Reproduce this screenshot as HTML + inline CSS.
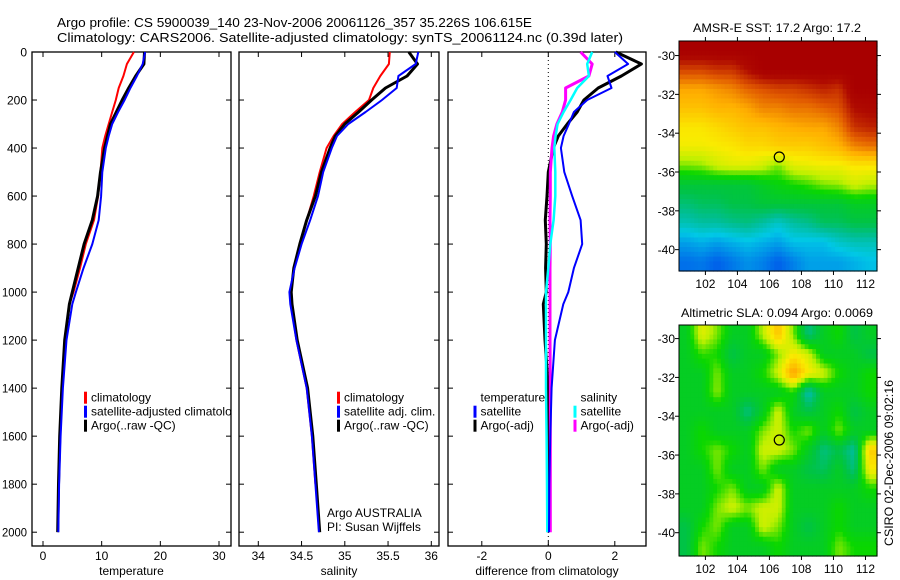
<!DOCTYPE html>
<html><head><meta charset="utf-8">
<style>
html,body{margin:0;padding:0;background:#fff;}
svg{display:block;font-family:"Liberation Sans",sans-serif;}
text{font-size:12px;fill:#000;}
</style></head>
<body>
<svg id="fig" width="900" height="580" viewBox="0 0 900 580" xmlns="http://www.w3.org/2000/svg">
<text x="57" y="27" style="font-size:13px" textLength="475" lengthAdjust="spacingAndGlyphs">Argo profile: CS 5900039_140 23-Nov-2006 20061126_357 35.226S 106.615E</text>
<text x="57" y="42" style="font-size:13px" textLength="566" lengthAdjust="spacingAndGlyphs">Climatology: CARS2006. Satellite-adjusted climatology: synTS_20061124.nc (0.39d later)</text>
<g id="g-t"></g>
<g id="g-s"></g>
<g id="g-d"></g>
<g id="g-m1"></g>
<g id="g-m2"></g>
<text x="693" y="32" textLength="168" lengthAdjust="spacingAndGlyphs">AMSR-E SST: 17.2 Argo: 17.2</text>
<text x="681" y="317" textLength="192" lengthAdjust="spacingAndGlyphs">Altimetric SLA: 0.094 Argo: 0.0069</text>
<text transform="translate(893,463) rotate(-90)" text-anchor="middle" textLength="166" lengthAdjust="spacingAndGlyphs">CSIRO 02-Dec-2006 09:02:16</text>
<text x="327" y="517">Argo AUSTRALIA</text>
<text x="327" y="531">PI: Susan Wijffels</text>
</svg>
<script>
// ---- data ----
const depths = [0,50,100,150,200,250,300,350,400,500,600,700,800,900,1000,1050,1200,1400,1600,1800,2000];
const tempClim = [15.5,14.3,13.7,12.9,12.4,11.8,11.2,10.6,10.1,9.8,9.4,8.7,7.3,6.3,5.2,4.5,3.7,3.3,2.95,2.7,null];
const tempSat  = [17.4,17.0,16.0,14.9,13.9,12.8,11.8,11.2,10.7,10.1,9.9,9.5,8.4,6.9,5.6,5.0,4.0,3.4,3.0,2.75,2.6];
const tempArgo = [17.3,17.2,15.8,14.6,13.5,12.5,11.5,11.0,10.5,9.8,9.3,8.4,7.0,6.0,5.0,4.5,3.7,3.2,2.85,2.65,2.5];
const salClim = [35.52,35.51,35.41,35.33,35.28,35.12,34.97,34.87,34.79,34.71,34.64,34.56,34.48,34.41,34.38,34.38,34.44,34.56,34.62,34.66,null];
const salSat  = [35.85,35.82,35.62,35.60,35.43,35.24,35.04,34.91,34.85,34.75,34.69,34.60,34.50,34.42,34.36,34.37,34.44,34.56,34.62,34.66,34.70];
const salArgo = [35.74,35.84,35.72,35.47,35.31,35.16,35.00,34.89,34.83,34.73,34.66,34.56,34.48,34.41,34.38,34.39,34.45,34.57,34.63,34.67,34.71];
const dTempSat  = [2.0,2.4,1.78,1.9,1.17,0.77,0.62,0.46,0.38,0.48,0.72,0.97,1.02,0.77,0.6,0.45,0.2,0.1,0.06,0.03,0.02];
const dTempArgo = [2.03,2.8,2.2,1.5,1.07,0.87,0.57,0.3,0.15,0.0,-0.04,-0.09,-0.06,-0.08,-0.06,-0.15,-0.1,0.0,0.02,0.02,0.0];
const dSalSat   = [1.32,1.17,1.22,0.87,0.67,0.46,0.28,0.22,0.18,0.21,0.21,0.16,0.06,0.0,-0.07,-0.07,-0.07,-0.07,-0.05,-0.04,-0.03];
const dSalArgo  = [0.97,1.32,1.22,0.52,0.52,0.42,0.26,0.16,0.11,0.06,0.06,0.05,0.06,0.05,0.05,0.05,0.05,0.06,0.06,0.06,0.06];
const depthTicks = [0,200,400,600,800,1000,1200,1400,1600,1800,2000];
const tempTicks = [0,10,20,30];
const salTicks = [34,34.5,35,35.5,36];
const salTickLabels = ["34","34.5","35","35.5","36"];
const diffTicks = [-2,0,2];
const lonTicks = [102,104,106,108,110,112];
const latTicks = [-30,-32,-34,-36,-38,-40];
const sstGrid = [
 [1,1,1,1,1,1,1,1,1,1,1,1,1],
 [0.88,0.88,0.9,0.9,0.95,1,1,1,1,1,1,1,1],
 [0.76,0.76,0.78,0.8,0.84,0.86,0.88,0.88,0.9,0.92,0.9,1,1],
 [0.72,0.72,0.74,0.74,0.76,0.8,0.8,0.82,0.82,0.84,0.86,0.95,0.96],
 [0.66,0.66,0.68,0.7,0.72,0.72,0.74,0.75,0.76,0.76,0.8,0.9,0.92],
 [0.64,0.64,0.65,0.66,0.68,0.68,0.7,0.7,0.7,0.72,0.74,0.8,0.82],
 [0.55,0.56,0.6,0.62,0.62,0.6,0.55,0.62,0.63,0.64,0.64,0.66,0.66],
 [0.42,0.42,0.42,0.42,0.42,0.45,0.48,0.5,0.52,0.55,0.56,0.6,0.58],
 [0.36,0.38,0.38,0.4,0.4,0.42,0.42,0.42,0.42,0.42,0.42,0.45,0.45],
 [0.3,0.32,0.32,0.34,0.35,0.32,0.28,0.32,0.34,0.38,0.38,0.4,0.4],
 [0.2,0.22,0.2,0.22,0.24,0.22,0.2,0.24,0.24,0.24,0.28,0.3,0.3],
 [0.14,0.15,0.12,0.15,0.18,0.16,0.12,0.16,0.2,0.2,0.2,0.22,0.24]
];
const slaGrid = [
 [0.45,0.62,0.55,0.45,0.45,0.58,0.72,0.55,0.35,0.45,0.5,0.4,0.45],
 [0.45,0.52,0.5,0.4,0.45,0.45,0.55,0.65,0.6,0.45,0.45,0.45,0.4],
 [0.45,0.45,0.55,0.45,0.45,0.5,0.6,0.78,0.65,0.6,0.5,0.45,0.5],
 [0.45,0.45,0.56,0.45,0.45,0.45,0.45,0.5,0.3,0.45,0.45,0.45,0.5],
 [0.45,0.45,0.45,0.45,0.35,0.45,0.6,0.45,0.4,0.45,0.5,0.4,0.45],
 [0.45,0.5,0.45,0.45,0.45,0.55,0.6,0.5,0.55,0.45,0.55,0.45,0.45],
 [0.45,0.5,0.55,0.5,0.45,0.6,0.6,0.55,0.45,0.35,0.4,0.32,0.7],
 [0.45,0.45,0.55,0.45,0.45,0.55,0.45,0.45,0.4,0.38,0.45,0.35,0.65],
 [0.45,0.45,0.5,0.55,0.45,0.45,0.6,0.45,0.45,0.45,0.45,0.45,0.5],
 [0.45,0.45,0.55,0.6,0.55,0.6,0.6,0.45,0.45,0.45,0.5,0.45,0.45],
 [0.4,0.5,0.55,0.45,0.45,0.6,0.55,0.45,0.4,0.45,0.5,0.45,0.45],
 [0.4,0.55,0.5,0.45,0.45,0.45,0.5,0.45,0.45,0.45,0.55,0.5,0.5]
];
const floatLon = 106.615, floatLat = -35.226;

// ---- helpers ----
const NS = "http://www.w3.org/2000/svg";
function mk(tag, attrs, parent){const e=document.createElementNS(NS,tag);for(const k in attrs)e.setAttribute(k,attrs[k]);parent.appendChild(e);return e;}
const yD = d => 52 + 0.2401*d;
const PT = {x0:32,x1:231,y0:52,y1:546};
const PS = {x0:239,x1:439,y0:52,y1:546};
const PD = {x0:448,x1:646,y0:52,y1:546};
const xT = v => 43 + 5.867*v;
const xS = v => 258.3 + 86.5*(v-34);
const xDf = v => 548.3 + 33.25*v;

function frame(g,P,xticks,xfun,labels,title,yl){
  const r=mk('rect',{x:P.x0,y:P.y0,width:P.x1-P.x0,height:P.y1-P.y0,fill:'none',stroke:'#000','stroke-width':1.3},g);
  
  
  xticks.forEach((t,i)=>{const x=xfun(t);
    mk('line',{x1:x,x2:x,y1:P.y0,y2:P.y0+5,stroke:'#000'},g);
    mk('line',{x1:x,x2:x,y1:P.y1,y2:P.y1-5,stroke:'#000'},g);
    const tx=mk('text',{x:x,y:560,'text-anchor':'middle'},g);tx.textContent=labels[i];
    
    
  });
  depthTicks.forEach(d=>{const y=yD(d);
    mk('line',{x1:P.x0,x2:P.x0+5,y1:y,y2:y,stroke:'#000'},g);
    mk('line',{x1:P.x1,x2:P.x1-5,y1:y,y2:y,stroke:'#000'},g);
    if(yl){const s=String(d);const at={x:27,y:y+4.5,'text-anchor':'end'};
      if(s.length===4){at.textLength=25;at.lengthAdjust='spacingAndGlyphs';}
      const tx=mk('text',at,g);tx.textContent=s;
      
      }
  });
  const tt=mk('text',{x:(P.x0+P.x1)/2,y:575,'text-anchor':'middle'},g);tt.textContent=title;
  
  
}
function series(g,vals,xf,color,w,name){
  let pts=[];
  vals.forEach((v,i)=>{if(v!==null)pts.push(xf(v).toFixed(1)+','+yD(depths[i]).toFixed(1));});
  const p=mk('polyline',{points:pts.join(' '),fill:'none',stroke:color,'stroke-width':w,'stroke-linejoin':'round'},g);
  
  
}
function legend(g,x,items,clip){
  items.forEach((it,i)=>{const y=401.7+14*i;
    if(it[0])mk('rect',{x:x,y:y-10,width:3,height:12,fill:it[0]},g);
    const t=mk('text',{x:x+7,y:y},g);t.textContent=it[1];
    
    
    if(clip)t.setAttribute('clip-path','url(#'+clip+')');
  });
}
const svg=document.getElementById('fig');
const defs=mk('defs',{},svg);
const cp=mk('clipPath',{id:'clipT'},defs);mk('rect',{x:32,y:52,width:199,height:494},cp);

// temperature
const gT=document.getElementById('g-t');
frame(gT,PT,tempTicks,xT,tempTicks.map(String),'temperature',true);
series(gT,tempClim,xT,'#f00',2,'temp-climatology-line');
series(gT,tempArgo,xT,'#000',3,'temp-argo-line');
series(gT,tempSat,xT,'#00f',2,'temp-satellite-line');
legend(gT,84,[['#f00','climatology'],['#00f','satellite-adjusted climatology'],['#000','Argo(..raw -QC)']],'clipT');

// salinity
const gS=document.getElementById('g-s');
frame(gS,PS,salTicks,xS,salTickLabels,'salinity',false);
series(gS,salClim,xS,'#f00',2,'sal-climatology-line');
series(gS,salArgo,xS,'#000',3,'sal-argo-line');
series(gS,salSat,xS,'#00f',2,'sal-satellite-line');
legend(gS,337,[['#f00','climatology'],['#00f','satellite adj. clim.'],['#000','Argo(..raw -QC)']]);

// difference
const gD=document.getElementById('g-d');
frame(gD,PD,diffTicks,xDf,diffTicks.map(String),'difference from climatology',false);
const zl=mk('line',{x1:xDf(0),x2:xDf(0),y1:52,y2:546,stroke:'#000','stroke-dasharray':'1,3'},gD);


series(gD,dTempArgo,xDf,'#000',3,'diff-temp-argo-line');
series(gD,dSalArgo,xDf,'#f0f',3,'diff-sal-argo-line');
series(gD,dSalSat,xDf,'#0ff',2.5,'diff-sal-satellite-line');
series(gD,dTempSat,xDf,'#00f',2,'diff-temp-satellite-line');
legend(gD,473.5,[[null,'temperature'],['#00f','satellite'],['#000','Argo(-adj)']]);
legend(gD,573.5,[[null,'salinity'],['#0ff','satellite'],['#f0f','Argo(-adj)']]);

// maps
const cstops=[[0,[0,40,230]],[0.1,[0,80,235]],[0.25,[0,200,230]],[0.33,[0,190,150]],[0.4,[0,195,70]],[0.5,[10,215,0]],[0.58,[190,240,0]],[0.65,[250,235,0]],[0.75,[255,175,0]],[0.85,[225,90,0]],[0.95,[175,10,0]],[1,[168,0,0]]];
function cmap(v){for(let i=1;i<cstops.length;i++){if(v<=cstops[i][0]){const a=cstops[i-1],b=cstops[i],f=(v-a[0])/(b[0]-a[0]);
  return 'rgb('+a[1].map((c,k)=>Math.round(c+(b[1][k]-c)*f)).join(',')+')';}}return 'rgb(168,0,0)';}
function drawMap(g,grid,M,name){
  const rows=grid.length,cols=grid[0].length,cw=(M.x1-M.x0)/cols,ch=(M.y1-M.y0)/rows;
  const sub=4;
  for(let r=0;r<rows;r++)for(let c=0;c<cols;c++)for(let a=0;a<sub;a++)for(let b=0;b<sub;b++){
    const fy=r+(a+0.5)/sub-0.5, fx=c+(b+0.5)/sub-0.5;
    const r0=Math.max(0,Math.min(rows-1,Math.floor(fy))),r1=Math.min(rows-1,r0+1),c0=Math.max(0,Math.min(cols-1,Math.floor(fx))),c1=Math.min(cols-1,c0+1);
    const ty=Math.max(0,Math.min(1,fy-r0)),tx=Math.max(0,Math.min(1,fx-c0));
    const v=(grid[r0][c0]*(1-tx)+grid[r0][c1]*tx)*(1-ty)+(grid[r1][c0]*(1-tx)+grid[r1][c1]*tx)*ty;
    const cell=mk('rect',{x:M.x0+(c+b/sub)*cw,y:M.y0+(r+a/sub)*ch,width:cw/sub+0.6,height:ch/sub+0.6,fill:cmap(v)},g);
    
    
  }
  const fr=mk('rect',{x:M.x0,y:M.y0,width:M.x1-M.x0,height:M.y1-M.y0,fill:'none',stroke:'#000','stroke-width':1},g);
  
  
  const xl=lon=>M.x0+(lon-M.lon0)*(M.x1-M.x0)/(M.lon1-M.lon0);
  const yl=lat=>M.y0+(M.lat0-lat)*(M.y1-M.y0)/(M.lat0-M.lat1);
  lonTicks.forEach(l=>{const x=xl(l);
    mk('line',{x1:x,x2:x,y1:M.y0-4,y2:M.y0,stroke:'#000'},g);
    mk('line',{x1:x,x2:x,y1:M.y1,y2:M.y1+4,stroke:'#000'},g);
    const t=mk('text',{x:x,y:M.y1+17,'text-anchor':'middle'},g);t.textContent=l;
    
    });
  latTicks.forEach(l=>{const y=yl(l);
    mk('line',{x1:M.x0-4,x2:M.x0,y1:y,y2:y,stroke:'#000'},g);
    mk('line',{x1:M.x1,x2:M.x1+4,y1:y,y2:y,stroke:'#000'},g);
    const t=mk('text',{x:M.x0-4,y:y+4.5,'text-anchor':'end'},g);t.textContent=l;
    
    });
  const m=mk('circle',{cx:xl(floatLon),cy:yl(floatLat),r:5,fill:'none',stroke:'#000','stroke-width':1.2},g);
  
  
}
drawMap(document.getElementById('g-m1'),sstGrid,{x0:679,x1:877,y0:41,y1:271,lon0:100.35,lon1:112.72,lat0:-29.25,lat1:-41.1},'sst-map');
drawMap(document.getElementById('g-m2'),slaGrid,{x0:679,x1:877,y0:325,y1:556,lon0:100.35,lon1:112.72,lat0:-29.3,lat1:-41.2},'sla-map');
</script>
</body></html>
